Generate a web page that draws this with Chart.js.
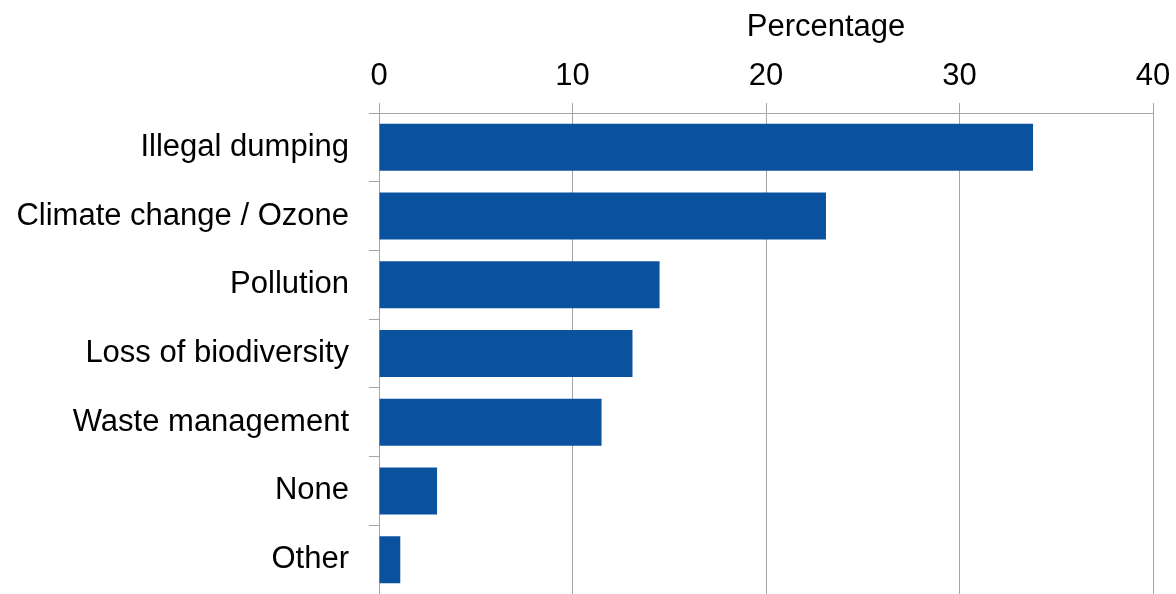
<!DOCTYPE html>
<html>
<head>
<meta charset="utf-8">
<script src="https://cdn.jsdelivr.net/npm/chart.js@4"></script>
<style>
  html, body { margin: 0; padding: 0; background: #fff; }
  #wrap { width: 1176px; height: 594px; }
</style>
</head>
<body>
<div id="wrap"><canvas id="chart" width="1176" height="594"></canvas></div>
<script>
// данные с картинки
const categories = ['Illegal dumping', 'Climate change / Ozone', 'Pollution', 'Loss of biodiversity', 'Waste management', 'None', 'Other'];
const percentages = [33.8, 23.1, 14.5, 13.1, 11.5, 3.0, 1.1];
const xTicks = [0, 10, 20, 30, 40];
const axisTitle = 'Percentage';

const FONT = '"Liberation Sans", Arial, sans-serif';
const GRID = '#a6a6a6';

// заголовок оси рисуем сами, он не по центру оси
const titlePlugin = {
  id: 'axisTitle',
  afterDraw(chart) {
    const ctx = chart.ctx;
    ctx.save();
    ctx.font = '31px ' + FONT;
    ctx.fillStyle = '#000';
    ctx.textAlign = 'center';
    ctx.textBaseline = 'alphabetic';
    ctx.fillText(axisTitle, 826, 36);
    ctx.restore();
  }
};

const ctx = document.getElementById('chart').getContext('2d');
const chart = new Chart(ctx, {
  type: 'bar',
  data: {
    labels: categories,
    datasets: [{
      data: percentages,
      backgroundColor: '#0b529e',
      borderWidth: 0,
      barPercentage: 0.684,
      categoryPercentage: 1
    }]
  },
  options: {
    indexAxis: 'y',
    responsive: false,
    animation: false,
    layout: { padding: { top: 0, right: 23, bottom: 0, left: 0 } },
    plugins: {
      legend: { display: false },
      tooltip: { enabled: false }
    },
    scales: {
      x: {
        position: 'top',
        min: 0,
        max: 40,
        afterFit: s => { s.height = 113; s.paddingRight = 0; s.paddingLeft = 0; },
        afterBuildTicks: s => { s.ticks = xTicks.map(v => ({ value: v })); },
        grid: { color: GRID, lineWidth: 1, tickLength: 10, tickColor: GRID },
        border: { color: GRID },
        ticks: {
          color: '#000',
          font: { family: FONT, size: 31 },
          padding: 8,
          maxRotation: 0
        }
      },
      y: {
        afterFit: s => { s.width = 379; s.paddingTop = 0; s.paddingBottom = 0; },
        grid: { drawOnChartArea: false, offset: true, color: GRID, tickLength: 10 },
        border: { color: GRID },
        ticks: {
          color: '#000',
          font: { family: FONT, size: 31 },
          padding: 20
        }
      }
    }
  },
  plugins: [titlePlugin]
});
</script>
</body>
</html>
